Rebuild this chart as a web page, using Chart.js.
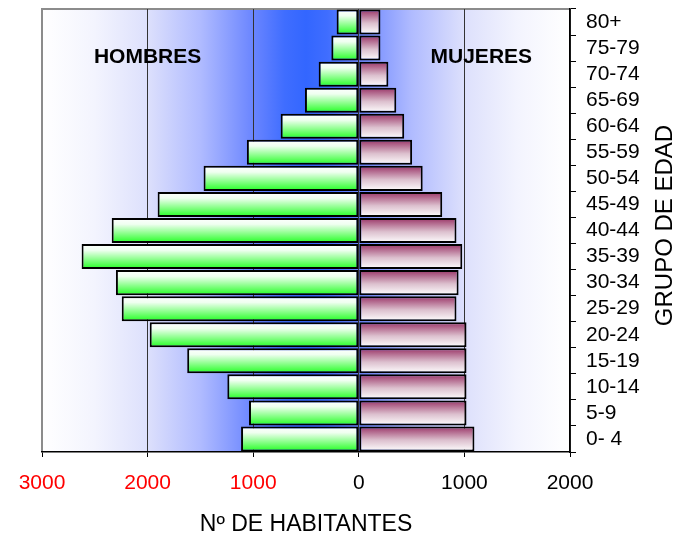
<!DOCTYPE html>
<html>
<head>
<meta charset="utf-8">
<title>Piramide de poblacion</title>
<script src="https://cdn.jsdelivr.net/npm/chart.js@4.4.1/dist/chart.umd.min.js"></script>
<style>
  html, body { margin: 0; padding: 0; background: #fff; }
  #wrap { width: 681px; height: 538px; position: relative; }
</style>
</head>
<body>
<div id="wrap"><canvas id="piramide"></canvas></div>
<script>
// grupos de edad (de abajo a arriba)
var grupos = ['0- 4', '5-9', '10-14', '15-19', '20-24', '25-29', '30-34', '35-39',
              '40-44', '45-49', '50-54', '55-59', '60-64', '65-69', '70-74', '75-79', '80+'];
// habitantes por grupo
var hombres = [1115, 1040, 1245, 1625, 1980, 2245, 2300, 2625, 2340, 1905, 1470, 1060, 740, 510, 380, 260, 210];
var mujeres = [1095, 1020, 1020, 1020, 1020, 925, 945, 980, 925, 790, 605, 505, 430, 355, 280, 205, 205];
// eje x
var xMin = -3000;
var xMax = 2000;
var xPaso = 1000;

var FONT = "'Liberation Sans', Arial, sans-serif";
var BAR_PCT = 0.96;

// gradiente vertical dentro de cada barra
function barGradient(ctx, stops) {
    var chart = ctx.chart;
    var y = chart.scales.y;
    if (!y || ctx.type !== 'data' || !isFinite(y.top)) return stops[stops.length - 1][1];
    var band = (y.bottom - y.top) / grupos.length;
    var c = y.getPixelForValue(ctx.dataIndex);
    var h = band * BAR_PCT / 2;
    var g = chart.ctx.createLinearGradient(0, c - h, 0, c + h);
    stops.forEach(function (s) { g.addColorStop(s[0], s[1]); });
    return g;
}

var fondo = {
    id: 'fondo',
    beforeDraw: function (chart) {
        var a = chart.chartArea, c = chart.ctx;
        var g = c.createLinearGradient(a.left, 0, a.right, 0);
        g.addColorStop(0, '#ffffff');
        g.addColorStop(0.1, '#f3f4fe');
        g.addColorStop(0.2, '#dde0fc');
        g.addColorStop(0.3, '#b0bbff');
        g.addColorStop(0.4, '#6a85ff');
        g.addColorStop(0.46, '#3f6dff');
        g.addColorStop(0.5, '#3366ff');
        g.addColorStop(0.54, '#3f6dff');
        g.addColorStop(0.6, '#6a85ff');
        g.addColorStop(0.7, '#b0bbff');
        g.addColorStop(0.8, '#dde0fc');
        g.addColorStop(0.9, '#f3f4fe');
        g.addColorStop(1, '#ffffff');
        c.save();
        c.fillStyle = g;
        c.fillRect(a.left, a.top, a.right - a.left, a.bottom - a.top);
        c.strokeStyle = '#8c8c8c';
        c.lineWidth = 2;
        c.beginPath();
        c.moveTo(a.left, a.bottom);
        c.lineTo(a.left, a.top);
        c.lineTo(a.right, a.top);
        c.stroke();
        c.restore();
    }
};

var rotulos = {
    id: 'rotulos',
    afterDraw: function (chart) {
        var c = chart.ctx, x = chart.scales.x, y = chart.scales.y;
        var yTxt = y.getPixelForValue(grupos.indexOf('75-79')) + 9;
        c.save();
        c.fillStyle = '#000';
        c.font = 'bold 21px ' + FONT;
        c.textAlign = 'center';
        c.textBaseline = 'middle';
        c.fillText('HOMBRES', x.getPixelForValue(-2000), yTxt);
        c.fillText('MUJERES', x.getPixelForValue(1160), yTxt);
        // titulo del eje vertical
        c.translate(665, (y.top + y.bottom) / 2 - 5);
        c.rotate(-Math.PI / 2);
        c.font = '24px ' + FONT;
        c.fillText('GRUPO DE EDAD', 0, 0);
        c.restore();
    }
};

var chart = new Chart(document.getElementById('piramide'), {
    type: 'bar',
    data: {
        labels: grupos,
        datasets: [{
            label: 'Hombres',
            data: hombres.map(function (v) { return -v; }),
            backgroundColor: function (ctx) {
                return barGradient(ctx, [[0, '#ffffff'], [0.25, '#effff0'], [1, '#22ff22']]);
            },
            borderColor: '#000',
            borderWidth: 2,
            borderSkipped: false,
            barPercentage: BAR_PCT,
            categoryPercentage: 1
        }, {
            label: 'Mujeres',
            data: mujeres,
            backgroundColor: function (ctx) {
                return barGradient(ctx, [[0, '#993366'], [0.55, '#dcc0ce'], [1, '#ffffff']]);
            },
            borderColor: '#000',
            borderWidth: 2,
            borderSkipped: false,
            barPercentage: BAR_PCT,
            categoryPercentage: 1
        }]
    },
    options: {
        indexAxis: 'y',
        responsive: true,
        maintainAspectRatio: false,
        animation: false,
        layout: { padding: { left: 42, top: 9, right: 0, bottom: 0 } },
        plugins: {
            legend: { display: false },
            tooltip: { enabled: false }
        },
        scales: {
            x: {
                stacked: true,
                min: xMin,
                max: xMax,
                afterFit: function (s) { s.height = 86; },
                ticks: {
                    stepSize: xPaso,
                    padding: 14,
                    color: function (ctx) { return ctx.tick.value < 0 ? '#ff0000' : '#000'; },
                    font: { family: FONT, size: 21 },
                    callback: function (v) { return Math.abs(v); }
                },
                grid: {
                    color: function (ctx) { return ctx.tick && ctx.tick.value === xMin ? '#8c8c8c' : '#333'; },
                    lineWidth: 1,
                    tickLength: 5,
                    tickColor: '#000'
                },
                border: { color: '#000', width: 1.5 },
                title: {
                    display: true,
                    text: 'Nº DE HABITANTES',
                    color: '#000',
                    font: { family: FONT, size: 23 },
                    padding: { top: 0, bottom: 0 }
                }
            },
            y: {
                stacked: true,
                reverse: true,
                position: 'right',
                afterFit: function (s) {
                    s.width = 111;
                    s.paddingTop = 0;
                    s.paddingBottom = 0;
                },
                ticks: {
                    autoSkip: false,
                    padding: 10,
                    color: '#000',
                    font: { family: FONT, size: 21 }
                },
                grid: {
                    drawOnChartArea: false,
                    offset: true,
                    tickLength: 6,
                    tickColor: '#000'
                },
                border: { color: '#000', width: 1.5 }
            }
        }
    },
    plugins: [fondo, rotulos]
});
</script>
</body>
</html>
